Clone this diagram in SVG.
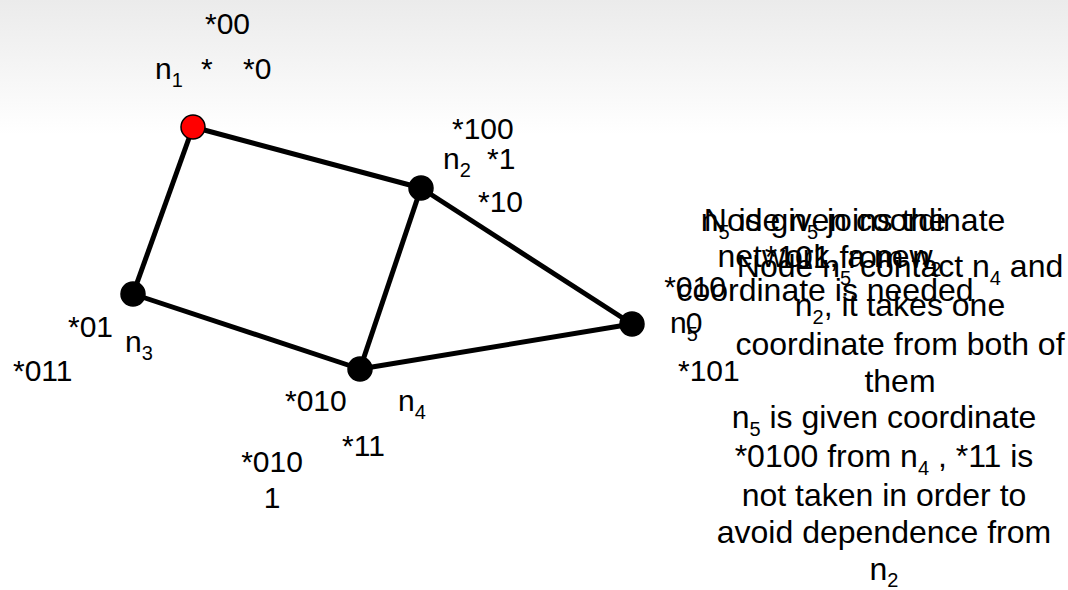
<svg xmlns="http://www.w3.org/2000/svg" width="1068" height="590" viewBox="0 0 1068 590">
<defs>
<linearGradient id="bg" x1="0" y1="0" x2="0" y2="1">
<stop offset="0" stop-color="#ebebeb"/>
<stop offset="1" stop-color="#ffffff"/>
</linearGradient>
<style>
text{font-family:"Liberation Sans",Arial,sans-serif;font-size:30px;fill:#000}
.n{font-size:32px}
.c{text-anchor:middle}
.s{font-size:20px}
.edge{stroke:#000;stroke-width:5;fill:none}
.node{fill:#000;stroke:#000;stroke-width:1.5}
.red{fill:#ff0000}
</style>
</defs>
<rect width="1068" height="590" fill="#fff"/>
<rect width="1068" height="135" fill="url(#bg)"/>
<g id="connectors">
<line class="edge" x1="193" y1="127" x2="421" y2="188"/>
<line class="edge" x1="193" y1="127" x2="133" y2="294"/>
<line class="edge" x1="421" y1="188" x2="360" y2="369"/>
<line class="edge" x1="421" y1="188" x2="632" y2="324"/>
<line class="edge" x1="133" y1="294" x2="360" y2="369"/>
<line class="edge" x1="360" y1="369" x2="632" y2="324"/>
</g>
<g id="n1">
<circle class="node red" cx="193" cy="127" r="12"/>
<text x="205" y="34">*00</text>
<text x="155" y="79">n<tspan class="s" dy="8">1</tspan></text>
<text x="201" y="79">*</text>
<text x="243" y="79">*0</text>
</g>
<g id="n2">
<circle class="node" cx="421" cy="188" r="12"/>
<text x="452" y="139">*100</text>
<text x="443" y="169">n<tspan class="s" dy="8">2</tspan></text>
<text x="487" y="169">*1</text>
<text x="478" y="212">*10</text>
</g>
<g id="n3">
<circle class="node" cx="133" cy="294" r="12"/>
<text x="68" y="337">*01</text>
<text x="125" y="352">n<tspan class="s" dy="8">3</tspan></text>
<text x="13" y="381">*011</text>
</g>
<g id="n4">
<circle class="node" cx="360" cy="369" r="12"/>
<text x="285" y="411">*010</text>
<text x="398" y="411">n<tspan class="s" dy="8">4</tspan></text>
<text x="342" y="456">*11</text>
<text class="c" x="272" y="472">*010</text>
<text class="c" x="272" y="508">1</text>
</g>
<g id="n5">
<circle class="node" cx="632" cy="324" r="12"/>
<text class="c" x="695" y="297">*010</text>
<text class="c" x="694" y="333">0</text>
<text x="670" y="333">n<tspan class="s" dy="8">5</tspan></text>
<text x="678" y="381">*101</text>
</g>
<g id="notes">
<text class="c n" x="825" y="231">Node n<tspan class="s" dy="8">5</tspan><tspan dy="-8"> joins the</tspan></text>
<text class="c n" x="825" y="267">network, a new</text>
<text class="c n" x="825" y="301">coordinate is needed</text>
<text class="c n" x="853" y="231">n<tspan class="s" dy="8">5</tspan><tspan dy="-8"> is given coordinate</tspan></text>
<text class="c n" x="853" y="268">*101 from n<tspan class="s" dy="8">2</tspan></text>
<text class="c n" x="900" y="277">Node n<tspan class="s" dy="8">5</tspan><tspan dy="-8"> contact n</tspan><tspan class="s" dy="8">4</tspan><tspan dy="-8"> and</tspan></text>
<text class="c n" x="900" y="316">n<tspan class="s" dy="8">2</tspan><tspan dy="-8">, it takes one</tspan></text>
<text class="c n" x="900" y="355">coordinate from both of</text>
<text class="c n" x="900" y="392">them</text>
<text class="c n" x="884" y="428">n<tspan class="s" dy="8">5</tspan><tspan dy="-8"> is given coordinate</tspan></text>
<text class="c n" x="884" y="467">*0100 from n<tspan class="s" dy="8">4</tspan><tspan dy="-8"> , *11 is</tspan></text>
<text class="c n" x="884" y="506">not taken in order to</text>
<text class="c n" x="884" y="543">avoid dependence from</text>
<text class="c n" x="884" y="580">n<tspan class="s" dy="7">2</tspan></text>
</g>
</svg>
